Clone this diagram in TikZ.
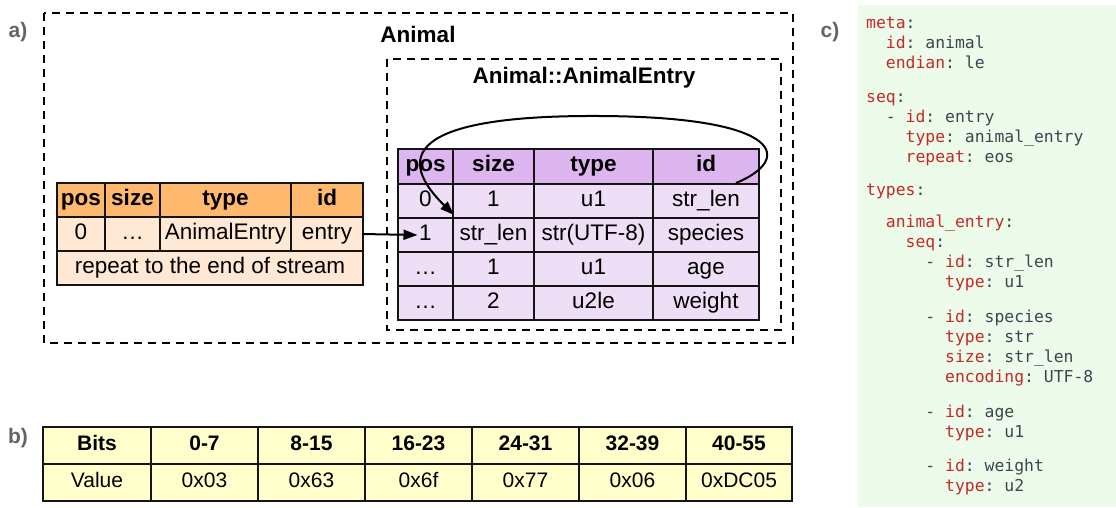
\documentclass[tikz,border=0pt]{standalone}
\usepackage{fontspec}
\setmainfont{Liberation Sans}
\setmonofont{DejaVu Sans Mono}
\usetikzlibrary{arrows.meta}
\definecolor{ohead}{RGB}{255,185,110}
\definecolor{obody}{RGB}{255,233,212}
\definecolor{phead}{RGB}{221,182,240}
\definecolor{pbody}{RGB}{238,222,246}
\definecolor{ybody}{RGB}{255,255,204}
\definecolor{codebg}{RGB}{237,252,234}
\definecolor{ckey}{RGB}{198,40,40}
\definecolor{cval}{RGB}{55,71,79}
\definecolor{lblgray}{RGB}{100,100,100}
\definecolor{lnc}{RGB}{20,20,20}
\newcommand\cellbox[7]{%
  \pgfmathsetmacro\cw{#4-#2}\pgfmathsetmacro\ch{#5-#3}%
  \pgfmathsetmacro\cx{(#2+#4)/2}\pgfmathsetmacro\cy{(#3+#5)/2}%
  \node[cell,#6,minimum width=\cw pt,minimum height=\ch pt] (#1) at (\cx,\cy) {#7};}
\newcommand\ck[1]{\textcolor{ckey}{#1}}
\newcommand\codeline[4]{%
  \pgfmathsetmacro\lx{866+9.87*#2}%
  \node[codetxt] (#1) at (\lx,#3) {#4};}
\begin{document}
\begin{tikzpicture}[x=1pt,y=-1pt,
  cell/.style={draw=lnc,line width=2pt,inner sep=0pt,text height=15pt,text depth=4.5pt,
    font=\fontsize{22.5}{24}\selectfont},
  hd/.style={font=\fontsize{22.5}{24}\selectfont\bfseries},
  ycell/.style={fill=ybody,font=\fontsize{21}{24}\selectfont},
  yhd/.style={fill=ybody,font=\fontsize{21}{24}\selectfont\bfseries},
  dbox/.style={draw=black,line width=2pt,dash pattern=on 8pt off 6pt},
  title/.style={font=\fontsize{22.5}{26}\selectfont\bfseries,inner sep=0pt},
  lbl/.style={font=\fontsize{21}{24}\selectfont\bfseries,text=lblgray,inner sep=0pt},
  codetxt/.style={anchor=base west,inner sep=0pt,font=\fontsize{16.4}{20}\selectfont\ttfamily,text=cval},
  conn/.style={draw=black,line width=2pt,-{Triangle[length=14pt,width=10pt]}}
]
\useasboundingbox (0,0) rectangle (1116,507);
% labels
\node[lbl] (la) at (18,32) {a)};
\node[lbl] (lb) at (18,438) {b)};
\node[lbl] (lc) at (830,32) {c)};
% dashed boxes
\draw[dbox] (44,13) rectangle (793,343);
\draw[dbox] (387,59) rectangle (781,330);
\node[title] (tAnimal) at (418,34) {Animal};
\node[title] (tEntry) at (584,78) {Animal::AnimalEntry};
% orange table
\cellbox{o00}{57}{183}{105}{217}{fill=ohead,hd}{pos}
\cellbox{o01}{105}{183}{160}{217}{fill=ohead,hd}{size}
\cellbox{o02}{160}{183}{291}{217}{fill=ohead,hd}{type}
\cellbox{o03}{291}{183}{363}{217}{fill=ohead,hd}{id}
\cellbox{o10}{57}{217}{105}{251}{fill=obody}{0}
\cellbox{o11}{105}{217}{160}{251}{fill=obody}{…}
\cellbox{o12}{160}{217}{291}{251}{fill=obody}{AnimalEntry}
\cellbox{o13}{291}{217}{363}{251}{fill=obody}{entry}
\cellbox{o20}{57}{251}{363}{285}{fill=obody}{repeat to the end of stream}
% purple table
\cellbox{p00}{398}{149}{453}{184}{fill=phead,hd}{pos}
\cellbox{p01}{453}{149}{534}{184}{fill=phead,hd}{size}
\cellbox{p02}{534}{149}{653}{184}{fill=phead,hd}{type}
\cellbox{p03}{653}{149}{759}{184}{fill=phead,hd}{id}
\cellbox{p10}{398}{184}{453}{218}{fill=pbody}{0}
\cellbox{p11}{453}{184}{534}{218}{fill=pbody}{1}
\cellbox{p12}{534}{184}{653}{218}{fill=pbody}{u1}
\cellbox{p13}{653}{184}{759}{218}{fill=pbody}{str\_len}
\cellbox{p20}{398}{218}{453}{252}{fill=pbody}{1}
\cellbox{p21}{453}{218}{534}{252}{fill=pbody}{str\_len}
\cellbox{p22}{534}{218}{653}{252}{fill=pbody}{str(UTF-8)}
\cellbox{p23}{653}{218}{759}{252}{fill=pbody}{species}
\cellbox{p30}{398}{252}{453}{286}{fill=pbody}{…}
\cellbox{p31}{453}{252}{534}{286}{fill=pbody}{1}
\cellbox{p32}{534}{252}{653}{286}{fill=pbody}{u1}
\cellbox{p33}{653}{252}{759}{286}{fill=pbody}{age}
\cellbox{p40}{398}{286}{453}{320}{fill=pbody}{…}
\cellbox{p41}{453}{286}{534}{320}{fill=pbody}{2}
\cellbox{p42}{534}{286}{653}{320}{fill=pbody}{u2le}
\cellbox{p43}{653}{286}{759}{320}{fill=pbody}{weight}
% connectors
\draw[conn] ([xshift=-2pt]o13.east) -- ([xshift=-8pt]p20.center);
\draw[conn] ([xshift=-24pt]p13.north east) .. controls (792,160) and (787,117) .. (600,116)
  .. controls (425,115) and (388,150) .. ([xshift=2pt,yshift=2pt]p21.north west);
% yellow table
\cellbox{y00}{43}{427}{151}{464}{yhd}{Bits}
\cellbox{y01}{151}{427}{258}{464}{yhd}{0-7}
\cellbox{y02}{258}{427}{365}{464}{yhd}{8-15}
\cellbox{y03}{365}{427}{472}{464}{yhd}{16-23}
\cellbox{y04}{472}{427}{579}{464}{yhd}{24-31}
\cellbox{y05}{579}{427}{686}{464}{yhd}{32-39}
\cellbox{y06}{686}{427}{792}{464}{yhd}{40-55}
\cellbox{y10}{43}{464}{151}{501}{ycell}{Value}
\cellbox{y11}{151}{464}{258}{501}{ycell}{0x03}
\cellbox{y12}{258}{464}{365}{501}{ycell}{0x63}
\cellbox{y13}{365}{464}{472}{501}{ycell}{0x6f}
\cellbox{y14}{472}{464}{579}{501}{ycell}{0x77}
\cellbox{y15}{579}{464}{686}{501}{ycell}{0x06}
\cellbox{y16}{686}{464}{792}{501}{ycell}{0xDC05}
% code panel
\fill[codebg] (858,5) rectangle (1116,507);
\codeline{c1}{0}{28}{\ck{meta}:}
\codeline{c2}{2}{48}{\ck{id}: animal}
\codeline{c3}{2}{68}{\ck{endian}: le}
\codeline{c4}{0}{102}{\ck{seq}:}
\codeline{c5}{2}{122}{- \ck{id}: entry}
\codeline{c6}{4}{142}{\ck{type}: animal\_entry}
\codeline{c7}{4}{162}{\ck{repeat}: eos}
\codeline{c8}{0}{195}{\ck{types}:}
\codeline{c9}{2}{227}{\ck{animal\_entry}:}
\codeline{c10}{4}{247}{\ck{seq}:}
\codeline{c11}{6}{267}{- \ck{id}: str\_len}
\codeline{c12}{8}{287}{\ck{type}: u1}
\codeline{c13}{6}{322}{- \ck{id}: species}
\codeline{c14}{8}{342}{\ck{type}: str}
\codeline{c15}{8}{362}{\ck{size}: str\_len}
\codeline{c16}{8}{382}{\ck{encoding}: UTF-8}
\codeline{c17}{6}{417}{- \ck{id}: age}
\codeline{c18}{8}{437}{\ck{type}: u1}
\codeline{c19}{6}{471}{- \ck{id}: weight}
\codeline{c20}{8}{491}{\ck{type}: u2}
\end{tikzpicture}
\end{document}
